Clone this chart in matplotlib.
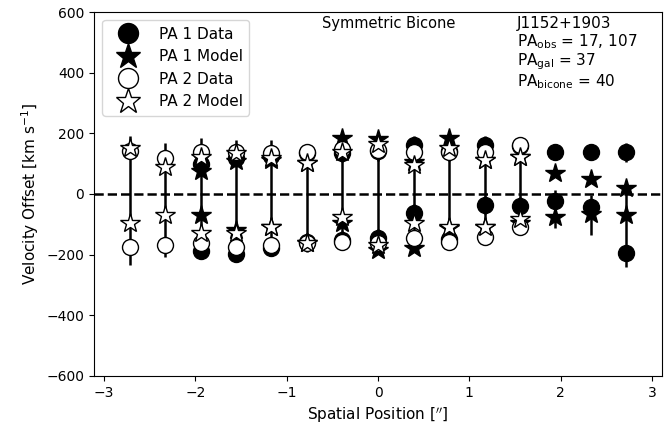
import numpy as np
import matplotlib
matplotlib.use("Agg")
import matplotlib.pyplot as plt

nan = np.nan
x = [-2.72, -2.33, -1.94, -1.55, -1.17, -0.78, -0.39, 0.0, 0.39, 0.78, 1.17, 1.55, 1.94, 2.33, 2.72]

# PA 1 data (two velocity components) and errors
pa1_hi = [nan, nan, 100, 120, 125, 135, 135, 140, 162, 140, 162, 158, 137, 137, 137]
pa1_lo = [nan, nan, -188, -198, -178, -160, -152, -146, -64, -150, -36, -40, -25, -44, -196]
pa1_hi_em = [0, 0, 30, 30, 30, 30, 30, 30, 30, 30, 30, 30, 20, 20, 32]
pa1_hi_ep = [0, 0, 30, 30, 30, 30, 30, 30, 30, 30, 30, 30, 20, 20, 32]
pa1_lo_em = [0, 0, 19, 20, 20, 25, 25, 40, 30, 30, 30, 30, 88, 91, 44]
pa1_lo_ep = [0, 0, 30, 30, 30, 30, 30, 30, 30, 30, 30, 30, 38, 41, 215]

# PA 1 model
pa1m_hi = [nan, nan, 75, 107, 112, 101, 185, 182, 105, 185, 112, 123, 68, 48, 20]
pa1m_lo = [nan, nan, -69, -119, -110, -163, -97, -185, -179, -113, -108, -95, -77, -65, -69]

# PA 2 data and errors
pa2_hi = [140, 120, 139, 139, 134, 139, 147, 145, 139, 139, 139, 160, nan, nan, nan]
pa2_lo = [-176, -170, -163, -174, -168, -163, -157, -163, -146, -157, -141, -108, nan, nan, nan]
pa2_hi_ep = [51, 49, 45, 39, 44, 22, 31, 45, 35, 33, 30, 20, 0, 0, 0]
pa2_lo_em = [58, 37, 44, 44, 22, 27, 21, 27, 30, 28, 25, 25, 0, 0, 0]

# PA 2 model
pa2m_hi = [152, 90, 123, 134, 118, 101, 139, 165, 96, 151, 112, 123, nan, nan, nan]
pa2m_lo = [-97, -69, -130, -130, -108, -163, -75, -168, -97, -108, -108, -82, nan, nan, nan]

info_lines = ['J1152+1903', r'PA$_{\rm obs}$ = 17, 107', r'PA$_{\rm gal}$ = 37', r'PA$_{\rm bicone}$ = 40']

fig = plt.figure(figsize=(6.67, 4.29), dpi=100)
ax = fig.add_axes([0.141, 0.124, 0.8515, 0.848])

ax.axhline(0, color='black', ls='--', lw=1.8, zorder=1)

ekw = dict(fmt='none', ecolor='black', elinewidth=1.8, capsize=0, zorder=2)
ax.vlines(x, pa2_lo, pa2_hi, color='black', lw=1.8, zorder=2)
ax.errorbar(x, pa2_hi, yerr=[np.zeros(len(x)), pa2_hi_ep], **ekw)
ax.errorbar(x, pa2_lo, yerr=[pa2_lo_em, np.zeros(len(x))], **ekw)
ax.errorbar(x, pa1_hi, yerr=[pa1_hi_em, pa1_hi_ep], **ekw)
ax.errorbar(x, pa1_lo, yerr=[pa1_lo_em, pa1_lo_ep], **ekw)

cs = 11.5
ss = 15
ax.plot(x, pa1_hi, 'o', ms=cs, mfc='black', mec='black', ls='none', zorder=3, label='PA 1 Data')
ax.plot(x, pa1_lo, 'o', ms=cs, mfc='black', mec='black', ls='none', zorder=3)
ax.plot(x, pa1m_hi, '*', ms=ss, mfc='black', mec='black', ls='none', zorder=4, label='PA 1 Model')
ax.plot(x, pa1m_lo, '*', ms=ss, mfc='black', mec='black', ls='none', zorder=4)
ax.plot(x, pa2_hi, 'o', ms=cs, mfc='white', mec='black', mew=1.0, ls='none', zorder=5, label='PA 2 Data')
ax.plot(x, pa2_lo, 'o', ms=cs, mfc='white', mec='black', mew=1.0, ls='none', zorder=5)
ax.plot(x, pa2m_hi, '*', ms=ss, mfc='white', mec='black', mew=1.0, ls='none', zorder=6, label='PA 2 Model')
ax.plot(x, pa2m_lo, '*', ms=ss, mfc='white', mec='black', mew=1.0, ls='none', zorder=6)

ax.set_xlim(-3.11, 3.11)
ax.set_ylim(-600, 600)
ax.set_xticks([-3, -2, -1, 0, 1, 2, 3])
ax.set_xticklabels(['\u22123', '\u22122', '\u22121', '0', '1', '2', '3'])
ax.set_yticks([-600, -400, -200, 0, 200, 400, 600])
ax.set_yticklabels(['\u2212600', '\u2212400', '\u2212200', '0', '200', '400', '600'])
ax.tick_params(labelsize=10)
ax.set_xlabel(r"Spatial Position [$''$]", fontsize=11)
ax.set_ylabel(r"Velocity Offset [km s$^{-1}$]", fontsize=11)

ax.legend(loc='upper left', fontsize=11, markerscale=1.25, handletextpad=0.8,
          borderaxespad=0.55, labelspacing=0.5, handlelength=2.5)

ax.text(0.518, 0.988, 'Symmetric Bicone', transform=ax.transAxes, ha='center', va='top', fontsize=10.5)
ax.text(0.745, 0.988, '\n'.join(info_lines), transform=ax.transAxes, ha='left', va='top',
        fontsize=11, linespacing=1.05)

fig.savefig('out.png', dpi=100)
